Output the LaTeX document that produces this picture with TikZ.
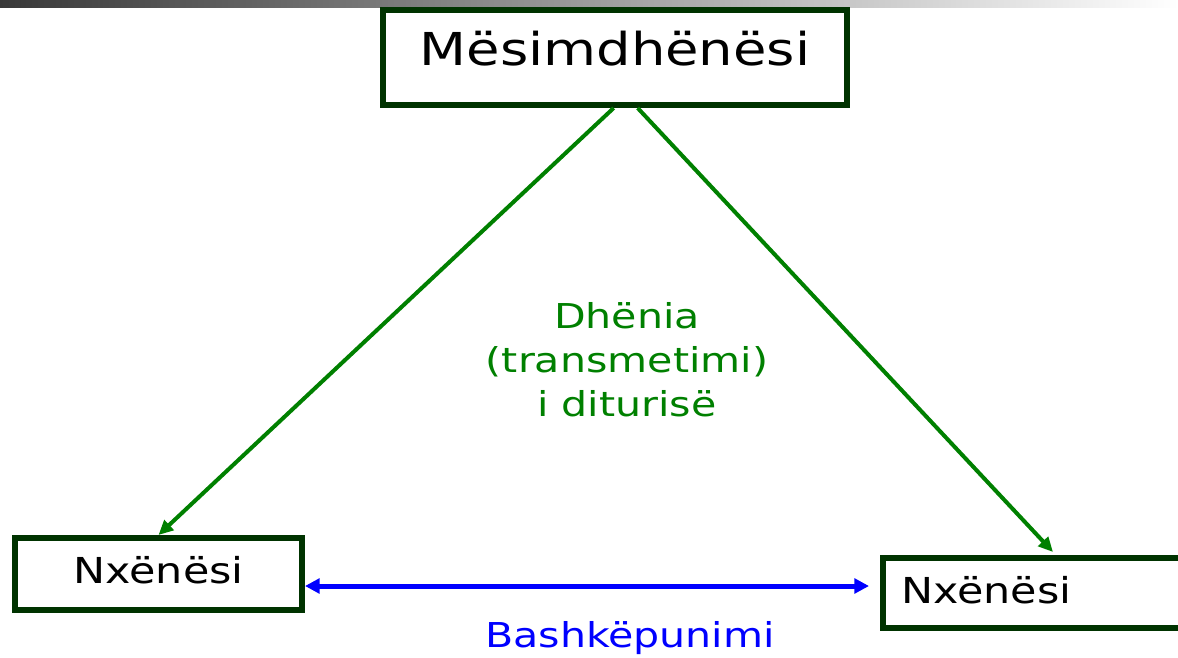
\documentclass[tikz,border=0pt]{standalone}
\usepackage{fontspec}
\setmainfont{DejaVu Sans}[FakeStretch=1.2]
\usetikzlibrary{arrows.meta}
\definecolor{boxgreen}{HTML}{003300}
\definecolor{arrgreen}{HTML}{008000}
\definecolor{arrblue}{HTML}{0000FF}
\tikzset{
  box/.style={draw=boxgreen, line width=4.5pt, fill=white, inner ysep=0pt},
  greenarrow/.style={draw=arrgreen, line width=3pt, -{Triangle[length=11pt,width=10pt]}},
  bluearrow/.style={draw=arrblue, line width=3.75pt, {Triangle[length=11pt,width=11pt]}-{Triangle[length=11pt,width=11pt]}},
}
\begin{document}
\begin{tikzpicture}[x=0.75pt,y=-0.75pt]
\useasboundingbox (0,0) rectangle (1178,657);
\clip (0,0) rectangle (1178,657);
\shade[left color=black!78, right color=white] (0,0) rectangle (1178,7);
% boxes
\node[box, minimum width=348pt, text height=41.25pt, text depth=30pt,
      font=\fontsize{34}{40}\selectfont] (T) at (615,57.5) {Mësimdhënësi};
\node[box, minimum width=215.25pt, text height=33.75pt, text depth=20.25pt,
      font=\fontsize{26.8}{32}\selectfont] (L) at (158.5,574) {Nxënësi};
\node[box, anchor=north west, text width=205.5pt, inner xsep=13.5pt, align=left,
      text height=33.75pt, text depth=18.75pt,
      font=\fontsize{26.8}{32}\selectfont] (R) at (880,555) {Nxënësi};
% labels
\node[text=arrgreen, align=center, anchor=north, inner sep=0pt,
      font=\fontsize{25.7}{33}\selectfont] (M) at (627,302) {Dhënia\\(transmetimi)\\i diturisë};
\node[text=arrblue, anchor=base, inner sep=0pt,
      font=\fontsize{25.7}{27}\selectfont] (B) at (630,647) {Bashkëpunimi};
% connectors
\draw[greenarrow] ([xshift=-1pt]T.south) -- (L.north);
\draw[greenarrow] ([xshift=17pt]T.south) -- ([xshift=129.75pt,yshift=2.25pt]R.north west);
\draw[bluearrow, shorten >=8.25pt] ([yshift=-9pt]L.east) -- ([yshift=-9pt]L.east -| R.west);
\end{tikzpicture}
\end{document}
